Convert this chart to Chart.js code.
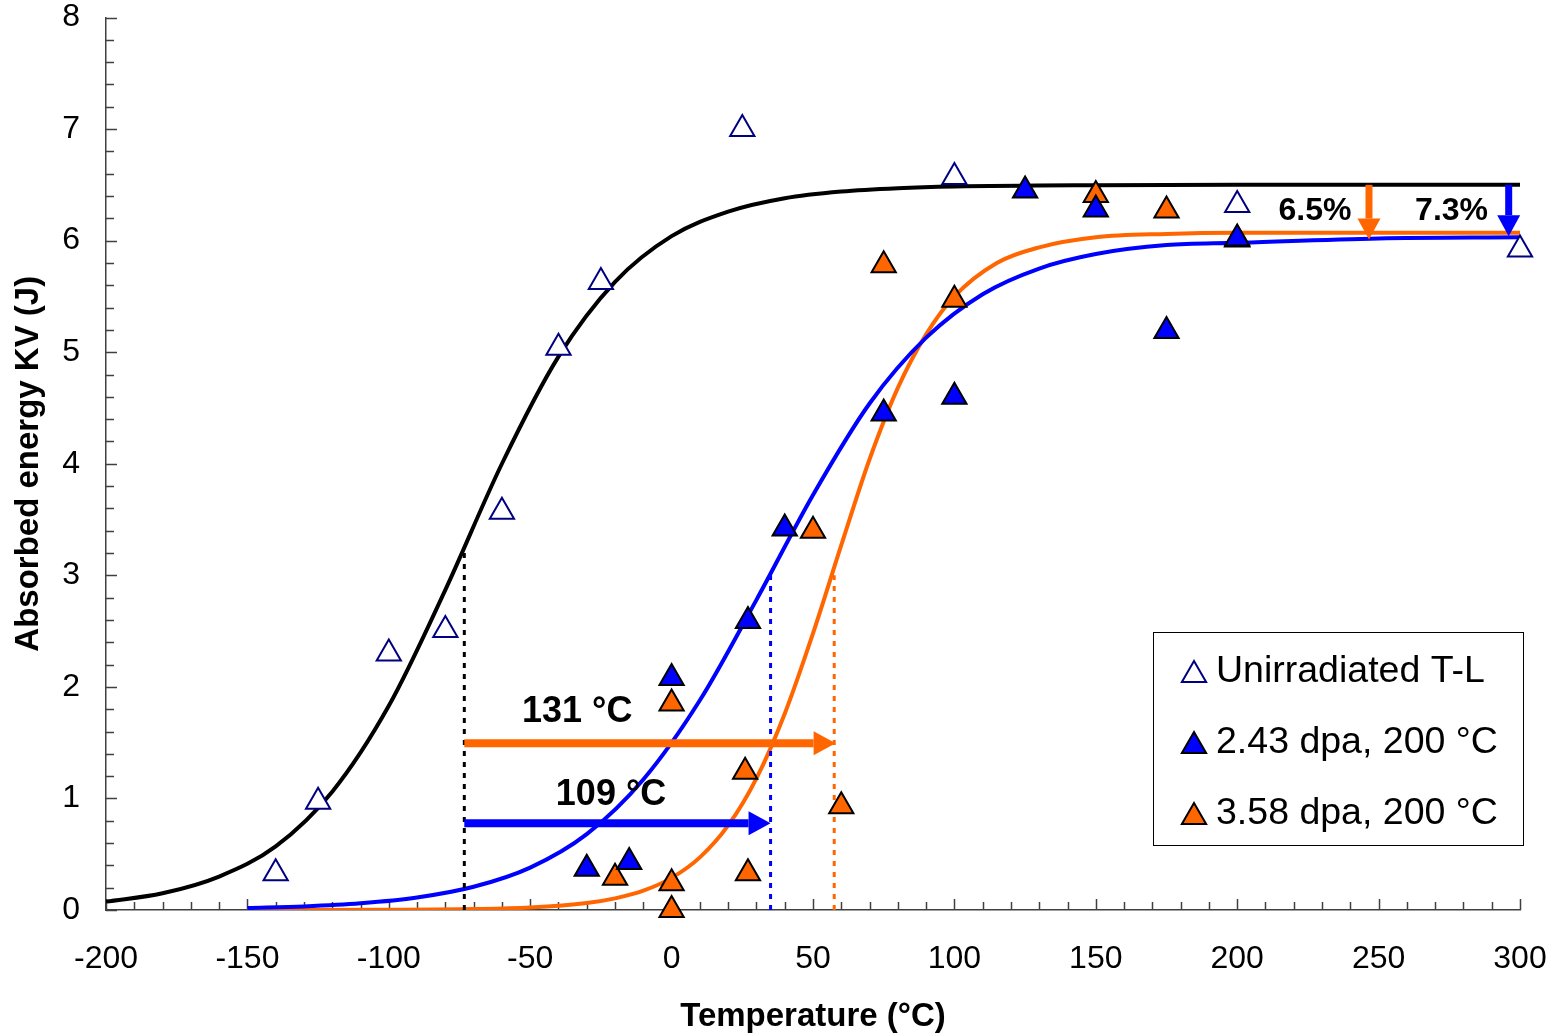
<!DOCTYPE html>
<html>
<head>
<meta charset="utf-8">
<script src="https://cdn.jsdelivr.net/npm/chart.js@4.4.1/dist/chart.umd.min.js"></script>
<style>
  html, body { margin: 0; background: #fff; }
  #wrap { width: 1554px; height: 1034px; }
</style>
</head>
<body>
<div id="wrap"><canvas id="kvChart"></canvas></div>
<script>
const FONT = "'Liberation Sans', Arial, sans-serif";

// measured points
const UNIRR_T  = [-140, -125, -100, -80, -60, -40, -25, 25, 100, 200, 300];
const UNIRR_KV = [0.33, 0.97, 2.30, 2.51, 3.57, 5.04, 5.63, 7.00, 6.57, 6.32, 5.92];

const DPA243_T  = [-30, -15, 0, 27, 40, 75, 100, 125, 150, 175, 200];
const DPA243_KV = [0.37, 0.43, 2.08, 2.59, 3.42, 4.45, 4.60, 6.45, 6.28, 5.19, 6.02];

const DPA358_T  = [-20, 0, 0, 0, 26, 27, 50, 60, 75, 100, 150, 175, 200];
const DPA358_KV = [0.29, 0.00, 0.24, 1.85, 1.24, 0.33, 3.40, 0.93, 5.78, 5.47, 6.41, 6.27, 6.01];

// fitted curves
const FIT_UNIRR_T  = [-200, -180, -160, -140, -120, -100, -80, -60, -40, -20, 0, 20, 40, 60, 80, 100, 150, 200, 300];
const FIT_UNIRR_KV = [0.075, 0.15, 0.30, 0.57, 1.06, 1.83, 2.87, 4.00, 4.96, 5.63, 6.04, 6.26, 6.38, 6.44, 6.47, 6.485, 6.497, 6.50, 6.50];

const FIT_243_T  = [-150, -130, -110, -90, -70, -50, -30, -10, 10, 30, 50, 70, 90, 110, 130, 150, 175, 200, 250, 300];
const FIT_243_KV = [0.017, 0.032, 0.06, 0.112, 0.208, 0.38, 0.68, 1.17, 1.88, 2.78, 3.72, 4.54, 5.13, 5.52, 5.75, 5.88, 5.96, 5.98, 6.02, 6.03];

const FIT_358_T  = [-150, -100, -70, -50, -30, -20, -10, 0, 10, 20, 30, 40, 50, 60, 70, 80, 90, 100, 115, 130, 150, 175, 200, 250, 300];
const FIT_358_KV = [0.0, 0.002, 0.008, 0.022, 0.062, 0.104, 0.173, 0.288, 0.472, 0.758, 1.18, 1.76, 2.48, 3.27, 4.04, 4.68, 5.16, 5.50, 5.80, 5.94, 6.03, 6.06, 6.07, 6.07, 6.07];

// transition temperatures (dotted markers)
const TT_T  = [-73.3, 35, 57.5];
const TT_KV = [3.25, 3.0, 3.0];

// shift arrows
const SHIFT_FROM = [-73.3, -73.3];
const SHIFT_TO   = [58, 35];
const SHIFT_KV   = [1.495, 0.777];
const SHIFT_TXT  = ['131 °C', '109 °C'];
const SHIFT_TXT_T  = [-33.4, -21.4];
const SHIFT_TXT_KV = [1.77, 1.03];

// upper shelf drop arrows
const DROP_T    = [246.6, 296];
const DROP_FROM = [6.5, 6.5];
const DROP_TO   = [6.01, 6.04];
const DROP_TXT  = ['6.5%', '7.3%'];
const DROP_TXT_T  = [227.5, 275.8];
const DROP_TXT_KV = [6.26, 6.26];

const X_TICKS = [-200, -150, -100, -50, 0, 50, 100, 150, 200, 250, 300];
const Y_TICKS = [0, 1, 2, 3, 4, 5, 6, 7, 8];

const pts = (xs, ys) => xs.map((x, i) => ({ x: x, y: ys[i] }));
const BLUE = '#0000ff', ORANGE = '#ff6600', NAVY = '#000080';

const markerSet = (label, xs, ys, fill, stroke) => ({
    label: label,
    inLegend: true,
    data: pts(xs, ys),
    pointStyle: 'triangle',
    pointRadius: 14,
    pointHoverRadius: 14,
    pointBackgroundColor: fill,
    pointBorderColor: stroke,
    pointBorderWidth: 2,
    showLine: false,
    clip: false,
    order: 0
});

const fitSet = (xs, ys, color) => ({
    type: 'line',
    data: pts(xs, ys),
    borderColor: color,
    borderWidth: 4,
    pointRadius: 0,
    cubicInterpolationMode: 'monotone',
    fill: false,
    order: 3
});

const dotSet = (i, color) => ({
    type: 'line',
    data: [{ x: TT_T[i], y: 0 }, { x: TT_T[i], y: TT_KV[i] }],
    borderColor: color,
    borderWidth: 3,
    borderDash: [5, 6],
    pointRadius: 0,
    fill: false,
    order: 2
});

// ticks pointing into the plot
const innerTicks = {
    id: 'innerTicks',
    beforeDatasetsDraw(chart) {
        const { ctx, scales: { x, y } } = chart;
        ctx.save();
        ctx.strokeStyle = '#404040';
        ctx.lineWidth = 1.5;
        ctx.beginPath();
        for (let v = 0; v <= 40; v++) {
            const py = Math.round(y.getPixelForValue(v / 5)) + 0.5;
            const len = v % 5 === 0 ? 11 : 8;
            ctx.moveTo(x.left, py);
            ctx.lineTo(x.left + len, py);
        }
        for (let v = -20; v <= 30; v++) {
            const px = Math.round(x.getPixelForValue(v * 10)) + 0.5;
            const len = v % 5 === 0 ? 11 : 8;
            ctx.moveTo(px, y.bottom);
            ctx.lineTo(px, y.bottom - len);
        }
        ctx.stroke();
        ctx.restore();
    }
};

function arrow(ctx, x0, y0, x1, y1, color, shaft, headLen, headHalf) {
    const ang = Math.atan2(y1 - y0, x1 - x0);
    const bx = x1 - Math.cos(ang) * headLen, by = y1 - Math.sin(ang) * headLen;
    ctx.strokeStyle = color;
    ctx.fillStyle = color;
    ctx.lineWidth = shaft;
    ctx.beginPath();
    ctx.moveTo(x0, y0);
    ctx.lineTo(bx, by);
    ctx.stroke();
    ctx.beginPath();
    ctx.moveTo(x1, y1);
    ctx.lineTo(bx - Math.sin(ang) * headHalf, by + Math.cos(ang) * headHalf);
    ctx.lineTo(bx + Math.sin(ang) * headHalf, by - Math.cos(ang) * headHalf);
    ctx.closePath();
    ctx.fill();
}

const annotations = {
    id: 'annotations',
    afterDatasetsDraw(chart) {
        const { ctx, scales: { x, y } } = chart;
        ctx.save();
        const shiftColors = [ORANGE, BLUE];
        for (let i = 0; i < SHIFT_TO.length; i++) {
            const py = y.getPixelForValue(SHIFT_KV[i]);
            arrow(ctx, x.getPixelForValue(SHIFT_FROM[i]), py, x.getPixelForValue(SHIFT_TO[i]), py,
                  shiftColors[i], 8, 22, 12);
        }
        for (let i = 0; i < DROP_T.length; i++) {
            const px = x.getPixelForValue(DROP_T[i]);
            arrow(ctx, px, y.getPixelForValue(DROP_FROM[i]), px, y.getPixelForValue(DROP_TO[i]),
                  shiftColors[i], 7, 21, 11.5);
        }
        ctx.fillStyle = '#000';
        ctx.textAlign = 'center';
        ctx.textBaseline = 'middle';
        ctx.font = 'bold 36px ' + FONT;
        SHIFT_TXT.forEach((t, i) => ctx.fillText(t, x.getPixelForValue(SHIFT_TXT_T[i]), y.getPixelForValue(SHIFT_TXT_KV[i])));
        ctx.font = 'bold 32px ' + FONT;
        DROP_TXT.forEach((t, i) => ctx.fillText(t, x.getPixelForValue(DROP_TXT_T[i]), y.getPixelForValue(DROP_TXT_KV[i])));
        ctx.restore();
    }
};

const boxLegend = {
    id: 'boxLegend',
    afterDraw(chart) {
        const { ctx, chartArea: a } = chart;
        const left = a.right - 367, top = a.top + 614.5, w = 370, h = 213;
        ctx.save();
        ctx.fillStyle = '#fff';
        ctx.fillRect(left, top, w, h);
        ctx.strokeStyle = '#000';
        ctx.lineWidth = 1;
        ctx.strokeRect(left + 0.5, top + 0.5, w, h);
        ctx.font = '37.5px ' + FONT;
        ctx.textAlign = 'left';
        ctx.textBaseline = 'alphabetic';
        chart.data.datasets.filter(d => d.inLegend).forEach((d, i) => {
            const base = top + 50 + i * 71;
            ctx.fillStyle = d.pointBackgroundColor;
            ctx.strokeStyle = d.pointBorderColor;
            ctx.lineWidth = d.pointBorderWidth;
            Chart.helpers.drawPoint(ctx, { pointStyle: 'triangle', radius: 14, borderWidth: d.pointBorderWidth, rotation: 0 },
                                    left + 41, base - 7);
            ctx.fillStyle = '#000';
            ctx.fillText(d.label, left + 63, base);
        });
        ctx.restore();
    }
};

const ctx = document.getElementById('kvChart').getContext('2d');
new Chart(ctx, {
    type: 'scatter',
    data: {
        datasets: [
            markerSet('Unirradiated T-L', UNIRR_T, UNIRR_KV, '#ffffff', NAVY),
            markerSet('2.43 dpa, 200 °C', DPA243_T, DPA243_KV, BLUE, '#000'),
            markerSet('3.58 dpa, 200 °C', DPA358_T, DPA358_KV, ORANGE, '#000'),
            fitSet(FIT_UNIRR_T, FIT_UNIRR_KV, '#000'),
            fitSet(FIT_243_T, FIT_243_KV, BLUE),
            fitSet(FIT_358_T, FIT_358_KV, ORANGE),
            dotSet(0, '#000'),
            dotSet(1, BLUE),
            dotSet(2, ORANGE)
        ]
    },
    options: {
        responsive: true,
        maintainAspectRatio: false,
        animation: false,
        events: [],
        layout: { padding: { top: 17.5, right: 34, left: 0, bottom: 0 } },
        plugins: { legend: { display: false }, tooltip: { enabled: false } },
        scales: {
            x: {
                type: 'linear',
                min: -200,
                max: 300,
                afterFit: s => { s.height = 124; s.paddingLeft = 0; s.paddingRight = 0; },
                afterBuildTicks: s => { s.ticks = X_TICKS.map(v => ({ value: v })); },
                grid: { display: true, drawOnChartArea: false, drawTicks: false },
                border: { display: true, color: '#404040', width: 1.5 },
                ticks: { color: '#000', padding: 33, maxRotation: 0, font: { family: FONT, size: 32, lineHeight: 1 } },
                title: { display: true, text: 'Temperature (°C)', color: '#000', padding: { top: 0, bottom: -3 },
                         font: { family: FONT, size: 33, weight: 'bold' } }
            },
            y: {
                type: 'linear',
                min: 0,
                max: 8,
                afterFit: s => { s.width = 106; s.paddingTop = 0; s.paddingBottom = 0; },
                afterBuildTicks: s => { s.ticks = Y_TICKS.map(v => ({ value: v })); },
                grid: { display: true, drawOnChartArea: false, drawTicks: false },
                border: { display: true, color: '#404040', width: 1.5 },
                ticks: { color: '#000', padding: 26, font: { family: FONT, size: 32, lineHeight: 1 } },
                title: { display: true, text: 'Absorbed energy KV (J)', color: '#000', padding: { top: 9, bottom: 0 },
                         font: { family: FONT, size: 33, weight: 'bold' } }
            }
        }
    },
    plugins: [innerTicks, annotations, boxLegend]
});
</script>
</body>
</html>
